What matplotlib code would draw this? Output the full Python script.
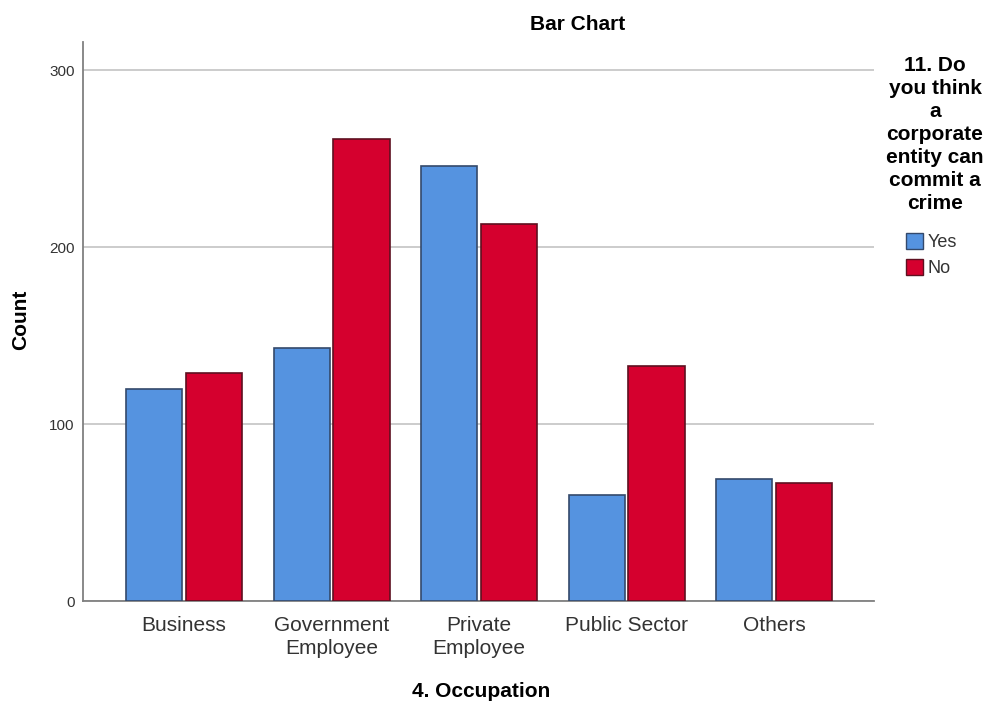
import matplotlib
matplotlib.use("Agg")
import matplotlib.pyplot as plt
import numpy as np
from matplotlib.patches import Patch

plt.rcParams['font.family'] = ['Liberation Sans', 'DejaVu Sans']

categories = ["Business", "Government\nEmployee", "Private\nEmployee", "Public Sector", "Others"]
yes_counts = [120, 143, 246, 60, 69]
no_counts = [129, 261, 213, 133, 67]
series_labels = ["Yes", "No"]
yticks = [0, 100, 200, 300]
legend_title = "11. Do\nyou think\na\ncorporate\nentity can\ncommit a\ncrime"

fig = plt.figure(figsize=(9.88, 7.08), dpi=100)
ax = fig.add_axes([0.084, 0.151, 0.801, 0.790])

x = np.arange(len(categories))
w = 0.38
off = 0.203
blue = "#5593E0"
red = "#D5002E"
blue_edge = "#34496B"
red_edge = "#5E1020"
ax.bar(x - off, yes_counts, w, color=blue, edgecolor=blue_edge, linewidth=1.2, zorder=3)
ax.bar(x + off, no_counts, w, color=red, edgecolor=red_edge, linewidth=1.2, zorder=3)

ax.set_xlim(-0.685, 4.68)
ax.set_ylim(0, 316)
ax.set_yticks(yticks)
ax.set_yticklabels([str(t) for t in yticks], fontsize=11, color="#333333")
ax.set_xticks(x)
ax.set_xticklabels(categories, fontsize=15, color="#333333", linespacing=1.25)
ax.tick_params(axis='both', length=0)
ax.tick_params(axis='y', pad=6)
ax.tick_params(axis='x', pad=11)
ax.yaxis.grid(True, color="#C8C8C8", linewidth=1.3, zorder=0)
ax.set_axisbelow(True)
for s in ["top", "right"]:
    ax.spines[s].set_visible(False)
for s in ["left", "bottom"]:
    ax.spines[s].set_color("#808080")
    ax.spines[s].set_linewidth(1.3)

fig.text(0.021, 0.548, "Count", rotation=90, fontsize=15, fontweight="bold",
         ha="center", va="center")
fig.text(0.487, 0.023, "4. Occupation", fontsize=15, fontweight="bold",
         ha="center", va="center")
fig.text(0.585, 0.966, "Bar Chart", fontsize=15, fontweight="bold",
         ha="center", va="center")

fig.text(935 / 988, 1 - 56 / 708, legend_title, fontsize=15, fontweight="bold",
         ha="center", va="top", multialignment="center", linespacing=1.27)

handles = [Patch(facecolor=blue, edgecolor=blue_edge), Patch(facecolor=red, edgecolor=red_edge)]
leg = fig.legend(handles, series_labels, loc="upper left",
                 bbox_to_anchor=(906 / 988, 1 - 233 / 708), frameon=False,
                 fontsize=13, handlelength=0.95, handleheight=0.95, handletextpad=0.25,
                 labelspacing=0.45, borderpad=0, borderaxespad=0)
for t in leg.get_texts():
    t.set_color("#333333")

fig.savefig("out.png", dpi=100)
